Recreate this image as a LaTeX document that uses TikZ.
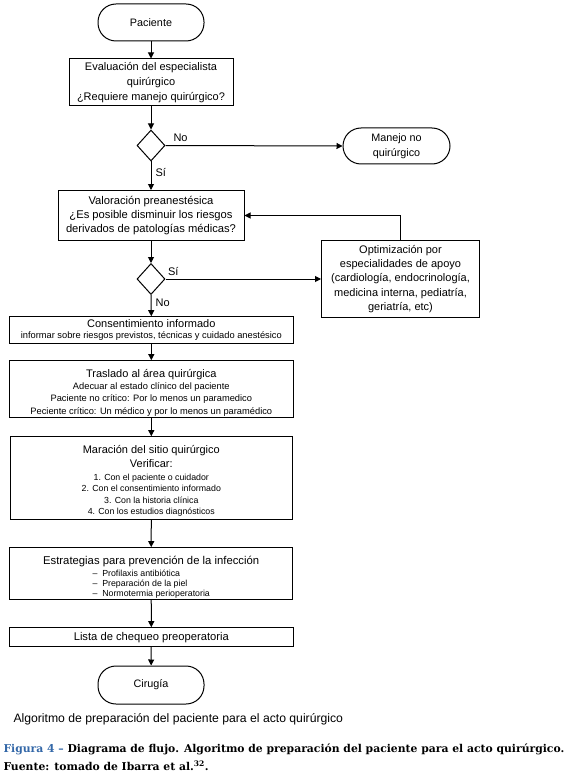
\documentclass[tikz,border=0pt]{standalone}
\usepackage{fontspec}
\setmainfont{Liberation Sans}
\newfontfamily\capfont{DejaVu Serif}
\usetikzlibrary{shapes.geometric,arrows.meta}
\definecolor{figblue}{RGB}{52,104,168}
\begin{document}
\begin{tikzpicture}[x=1pt,y=-1pt,line width=1pt,
  flecha/.style={-{Triangle[length=6pt,width=6pt]}},
  caja/.style={draw,rectangle,inner sep=0pt,align=center,font=\fontsize{11}{14}\selectfont},
  terminal/.style={draw,rectangle,rounded corners=18pt,inner sep=0pt,minimum width=106pt,minimum height=37pt,align=center,font=\fontsize{10.8}{15}\selectfont},
  decision/.style={draw,diamond,inner sep=0pt,minimum width=28pt,minimum height=31pt},
  etiq/.style={font=\fontsize{11}{12}\selectfont,inner sep=1pt}]
\useasboundingbox (0,0) rectangle (570,778);
\node[terminal] (pac) at (151,22.5) {Paciente};
\node[caja,minimum width=164pt,minimum height=47pt,font=\fontsize{11}{15.3}\selectfont] (eval) at (151,82.5) {Evaluación del especialista\\quirúrgico\\¿Requiere manejo quirúrgico?};
\node[decision] (dec1) at (151,145.5) {};
\node[terminal,minimum width=107pt,minimum height=36pt] (manejo) at (396.5,146) {Manejo no\\quirúrgico};
\node[caja,minimum width=186pt,minimum height=50pt,font=\fontsize{11.2}{13.7}\selectfont] (val) at (151,215.5) {Valoración preanestésica\\¿Es posible disminuir los riesgos\\derivados de patologías médicas?};
\node[decision] (dec2) at (151,279) {};
\node[caja,minimum width=158pt,minimum height=77pt,font=\fontsize{11}{14.2}\selectfont] (opt) at (400.5,279) {Optimización por\\especialidades de apoyo\\(cardiología, endocrinología,\\medicina interna, pediatría,\\geriatría, etc)};
\node[caja,minimum width=284pt,minimum height=26.6pt,font=\fontsize{11}{11.7}\selectfont] (cons) at (151.3,330) {Consentimiento informado\\\fontsize{9.3}{11}\selectfont informar sobre riesgos previstos, técnicas y cuidado anestésico};
\node[caja,minimum width=284pt,minimum height=54pt,font=\fontsize{11}{12}\selectfont] (tras) at (151.3,389.3) {\rule{0pt}{17pt}Traslado al área quirúrgica\\{\fontsize{9.3}{12.3}\selectfont\begin{tabular}[t]{@{}c@{}}Adecuar al estado clínico del paciente\\Paciente no crítico: Por lo menos un paramedico\\Peciente crítico: Un médico y por lo menos un paramédico\end{tabular}}};
\node[caja,minimum width=282pt,minimum height=82.6pt,font=\fontsize{11}{13.4}\selectfont] (mar) at (151.3,478) {\rule{0pt}{16pt}Maración del sitio quirúrgico\\Verificar:\\{\fontsize{8.8}{11.5}\selectfont\begin{tabular}[t]{@{}c@{}}1. Con el paciente o cuidador\\2. Con el consentimiento informado\\3. Con la historia clínica\\4. Con los estudios diagnósticos\end{tabular}}};
\node[caja,minimum width=283pt,minimum height=48.4pt,font=\fontsize{11.3}{12}\selectfont] (estr) at (151.2,573.5) {\rule{0pt}{17pt}Estrategias para prevención de la infección\\{\fontsize{8.8}{9.9}\selectfont\begin{tabular}[t]{@{}l@{}}–\ \ Profilaxis antibiótica\\–\ \ Preparación de la piel\\–\ \ Normotermia perioperatoria\end{tabular}}};
\node[caja,minimum width=284pt,minimum height=19pt,font=\fontsize{11.2}{12}\selectfont] (lista) at (151.3,637.2) {Lista de chequeo preoperatoria};
\node[terminal,minimum height=38pt] (cir) at (151,685) {Cirugía};
\draw[flecha] (pac) -- (eval);
\draw[flecha] (eval) -- (dec1);
\draw[flecha] (dec1.east) -- node[etiq,pos=0.085,above=2pt] {No} (manejo.west);
\draw[flecha] (dec1.south) -- node[etiq,pos=0.4,right=3pt] {Sí} (val.north);
\draw[flecha] (val) -- (dec2);
\draw[flecha] (dec2.east) -- node[etiq,pos=0.05,above=2pt] {Sí} (opt.west);
\draw[flecha] (opt.north) |- (val.east);
\draw[flecha] (dec2.south) -- node[etiq,pos=0.35,right=3pt] {No} (cons.north);
\foreach \a/\b in {cons/tras,tras/mar,mar/estr,estr/lista,lista/cir}
  \draw[flecha] (\a) -- (\b);
\node[anchor=west,inner sep=0pt,font=\fontsize{12.2}{14}\selectfont] (alg) at (13,719.5) {Algoritmo de preparación del paciente para el acto quirúrgico};
\node[anchor=west,inner sep=0pt,font=\capfont\bfseries\fontsize{10.8}{13}\selectfont] (fig) at (3,749.5) {\textcolor{figblue}{Figura 4 –} Diagrama de flujo. Algoritmo de preparación del paciente para el acto quirúrgico.};
\node[anchor=west,inner sep=0pt,font=\capfont\bfseries\fontsize{10.8}{13}\selectfont] (fte) at (3,765.5) {Fuente: tomado de Ibarra et al.\textsuperscript{32}.};
\end{tikzpicture}
\end{document}
